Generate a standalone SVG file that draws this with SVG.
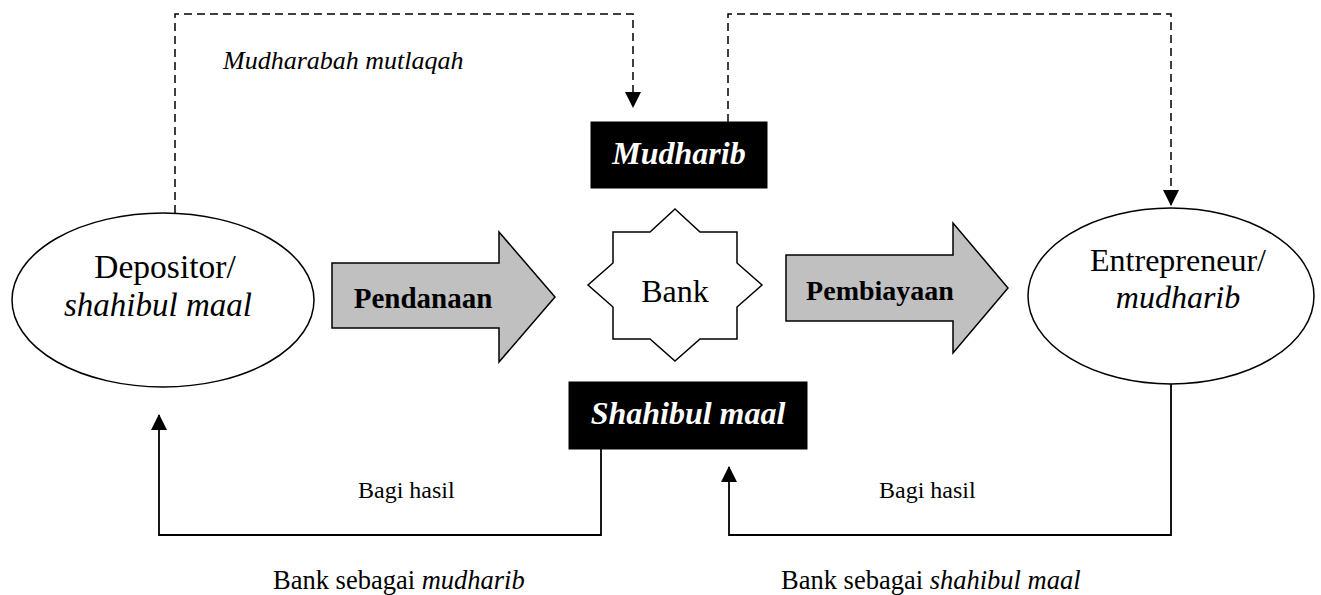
<svg xmlns="http://www.w3.org/2000/svg" width="1321" height="595" viewBox="0 0 1321 595">
<style>
text{font-family:"Liberation Serif","Times New Roman",serif;fill:#000}
.node{fill:#fff;stroke:#000;stroke-width:1.5}
.big{fill:#c0c0c0;stroke:#000;stroke-width:1.5}
.dark{fill:#000;stroke:#000}
.wt{fill:#fff;font-weight:bold;font-style:italic;font-size:32px}
.lbl{font-size:32px}
.it{font-style:italic}
.bd{font-weight:bold}
.dash{fill:none;stroke:#000;stroke-width:1.5;stroke-dasharray:8 5}
.solid{fill:none;stroke:#000;stroke-width:1.8}
</style>
<defs>
<marker id="ah" markerUnits="userSpaceOnUse" markerWidth="16" markerHeight="16" viewBox="0 0 16 16" refX="15" refY="8" orient="auto">
<path d="M0,0 L16,8 L0,16 Z" fill="#000"/>
</marker>
</defs>
<rect width="1321" height="595" fill="#fff"/>
<g id="connectors">
<path class="dash" d="M175,213 V14 H633 V107" marker-end="url(#ah)"/>
<path class="dash" d="M728,122 V14 H1171 V205" marker-end="url(#ah)"/>
<path class="solid" d="M601,449 V535 H159 V415" marker-end="url(#ah)"/>
<path class="solid" d="M1171,383 V535 H729 V467" marker-end="url(#ah)"/>
</g>
<g id="label-mutlaqah"><text x="223" y="69" font-size="26" class="it">Mudharabah mutlaqah</text></g>
<g id="depositor">
<ellipse class="node" cx="163" cy="300" rx="151" ry="87"/>
<text x="165" y="278" font-size="33.5" text-anchor="middle">Depositor/</text>
<text class="it" x="158" y="316" font-size="33" text-anchor="middle">shahibul maal</text>
</g>
<g id="pendanaan">
<path class="big" d="M332,263 H499 V232 L555,297 L499,362 V328 H332 Z"/>
<text x="423" y="308" font-size="29" class="bd" text-anchor="middle">Pendanaan</text>
</g>
<g id="mudharib-box">
<rect class="dark" x="591" y="122" width="176" height="66"/>
<text class="wt" x="679" y="164" text-anchor="middle">Mudharib</text>
</g>
<g id="bank">
<path class="node" d="M613,232 H650 L675,209 L700,232 H737 V263 L762,285 L737,307 V339 H700 L675,361 L650,339 H613 V307 L588,285 L613,263 Z"/>
<text class="lbl" x="675" y="302" font-size="31" text-anchor="middle">Bank</text>
</g>
<g id="shahibul-box">
<rect class="dark" x="569" y="382" width="238" height="67"/>
<text class="wt" x="688" y="424" text-anchor="middle">Shahibul maal</text>
</g>
<g id="pembiayaan">
<path class="big" d="M786,255 H953 V223 L1008,288 L953,353 V321 H786 Z"/>
<text x="880" y="300" font-size="28" class="bd" text-anchor="middle">Pembiayaan</text>
</g>
<g id="entrepreneur">
<ellipse class="node" cx="1171" cy="296" rx="143" ry="88"/>
<text class="lbl" x="1178" y="271" text-anchor="middle">Entrepreneur/</text>
<text class="lbl it" x="1178" y="308" text-anchor="middle">mudharib</text>
</g>
<g id="labels">
<text x="358" y="498" font-size="24">Bagi hasil</text>
<text x="879" y="498" font-size="24">Bagi hasil</text>
<text x="273" y="589" font-size="26.5">Bank sebagai <tspan class="it">mudharib</tspan></text>
<text x="781" y="589" font-size="26.5">Bank sebagai <tspan class="it">shahibul maal</tspan></text>
</g>
</svg>
